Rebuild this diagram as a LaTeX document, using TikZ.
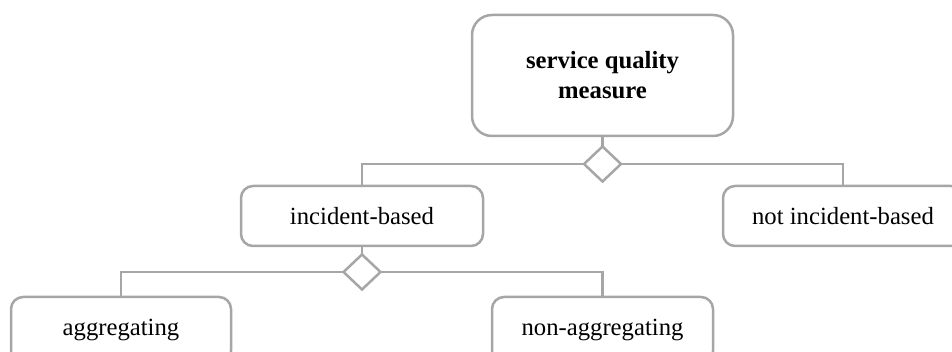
\documentclass[tikz,border=0pt]{standalone}
\usepackage{fontspec}
\setmainfont{Liberation Serif}
\usetikzlibrary{shapes.geometric}
\definecolor{linegray}{HTML}{A6A6A6}
\tikzset{
  box/.style={draw=linegray, line width=2.5pt, rounded corners=12pt, fill=white,
    inner sep=0pt, outer sep=0pt, align=center,
    font=\fontsize{24.7pt}{30pt}\selectfont},
  junction/.style={diamond, draw=linegray, line width=2.5pt, fill=white,
    inner sep=0pt, outer sep=0pt, minimum width=37pt, minimum height=35pt},
  conn/.style={draw=linegray, line width=2.5pt}
}
\begin{document}
\begin{tikzpicture}[x=1pt,y=-1pt]
\useasboundingbox (0,0) rectangle (952,352);
\clip (0,0) rectangle (952,352);
\node[box, rounded corners=20pt, minimum width=261pt, minimum height=121pt, font=\fontsize{24.7pt}{30pt}\selectfont\bfseries] (top) at (602.5,75.5) {service quality\\measure};
\node[junction] (d1) at (602.5,164) {};
\node[box, minimum width=242pt, minimum height=60pt] (inc) at (362,216) {incident-based};
\node[box, minimum width=240pt, minimum height=60pt] (notinc) at (843,216) {not incident-based};
\node[junction] (d2) at (362,272) {};
\node[box, minimum width=220pt, minimum height=66pt] (agg) at (121,330) {aggregating};
\node[box, minimum width=221pt, minimum height=66pt] (nonagg) at (602.5,330) {non-aggregating};
\draw[conn] (top.south) -- (d1.north);
\draw[conn] (d1.west) -| (inc.north);
\draw[conn] (d1.east) -| (notinc.north);
\draw[conn] (inc.south) -- (d2.north);
\draw[conn] (d2.west) -| (agg.north);
\draw[conn] (d2.east) -| (nonagg.north);
\end{tikzpicture}
\end{document}
